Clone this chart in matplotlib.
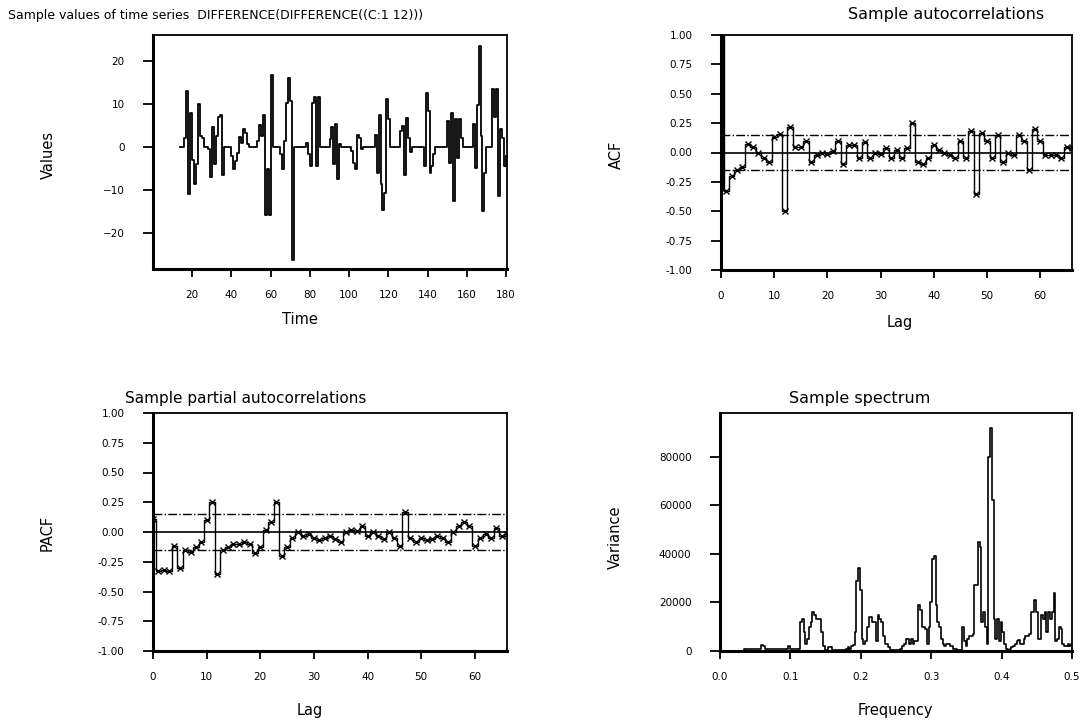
import numpy as np
import matplotlib
matplotlib.use("Agg")
import matplotlib.pyplot as plt
from matplotlib.ticker import FormatStrFormatter

plt.rcParams['font.family'] = ['DejaVu Sans']

# --- data ------------------------------------------------------------------
t_start, t_end = 14, 180
series_vals = [
    0, 0, 2, 13, -11, 8, -3, -8.5, -4, 10,
    2.5, 2, 0, 0, -0.5, -7, 4.7, -4, 2.5, 7,
    7.4, -6.6, 0, 0, 0, 0, -2, -5.2, -3.3, -1.3,
    2.3, 1, 4.1, 3.2, 0.6, 0, 0, 0, 0, 1.4,
    5.1, 2.5, 7.4, -15.7, -5, -15.7, 16.7, 0, 0, 0,
    0, -1.7, -5.2, 1.4, 10.2, 16.1, 10.7, -26.1, 0, 0,
    0, 0, 0, 0, 1, -1.5, -4.4, 10.2, 11.5, -4.4,
    11.5, 0, 0, 0, 0, 0, 1.8, 4.7, -4, 5.3,
    -7.3, 0.6, 0, 0, 0, 0, 0, -1, -3.6, -5.2,
    2.7, 2.2, -0.5, 0, 0, 0, 0, 0, 0, 2.7,
    -6, 7.4, -8.5, -14.5, -10.6, 11.1, 6.4, 0, 0, 0,
    0, 0, 3.7, 4.9, -6.4, 6.8, 2.2, -1.2, 0, 0,
    0, 0, 0, 0, -4.4, 12.6, 8.4, -6, -4.4, -1.5,
    0, 0, 0, 0, 0, 0, 6, -3.6, 8, -12.6,
    6.4, -2.5, 6.4, 2.2, 0, 0, 0, 0, 0, 5.3,
    -4.8, 9.7, 23.5, 2.6, -14.9, -6, 0, 0, 0, 13.4,
    7, 13.4, -11.4, 4.1, 2, -4.4, -2,
]

acf_vals = [
    1.0, -0.33, -0.2, -0.15, -0.12, 0.07, 0.05, 0.0, -0.05, -0.08,
    0.13, 0.16, -0.5, 0.22, 0.05, 0.05, 0.1, -0.08, -0.02, 0.0,
    -0.01, 0.01, 0.1, -0.1, 0.06, 0.06, -0.05, 0.09, -0.05, 0.0,
    -0.01, 0.04, -0.05, 0.02, -0.05, 0.04, 0.25, -0.08, -0.1, -0.05,
    0.06, 0.02, 0.0, -0.02, -0.05, 0.1, -0.05, 0.18, -0.35, 0.17,
    0.1, -0.05, 0.15, -0.08, 0.0, -0.02, 0.15, 0.1, -0.15, 0.2,
    0.1, -0.02, -0.02, -0.02, -0.05, 0.05, 0.04,
]

pacf_vals = [
    0.11, -0.33, -0.32, -0.33, -0.12, -0.3, -0.15, -0.17, -0.13, -0.08,
    0.1, 0.25, -0.35, -0.15, -0.13, -0.1, -0.1, -0.08, -0.1, -0.18,
    -0.13, 0.02, 0.08, 0.25, -0.2, -0.13, -0.05, 0.0, -0.03, -0.02,
    -0.05, -0.07, -0.05, -0.03, -0.06, -0.08, 0.0, 0.02, 0.01, 0.05,
    -0.03, 0.0, -0.03, -0.06, 0.0, -0.05, -0.12, 0.17, -0.05, -0.08,
    -0.05, -0.07, -0.06, -0.03, -0.05, -0.08, 0.0, 0.05, 0.08, 0.05,
    -0.12, -0.05, -0.02, -0.05, 0.03, -0.03, -0.02,
]
conf_band = 0.15

freq_step = 0.0025
spec_k = [  # variance in thousands
    0, 0, 0, 0, 0, 0, 0, 0, 0, 0,
    0, 0, 0, 0, 1, 1, 1, 1, 1, 1,
    1, 1, 1, 1, 2.5, 2, 1, 1, 1, 1,
    1, 1, 1, 1, 1, 1, 1, 1, 1, 2,
    1, 1, 1, 1, 1, 1, 12, 13, 8, 3,
    5, 10, 12, 16, 15, 13, 13, 13, 8, 2,
    0.5, 0.5, 1.5, 1.5, 0.3, 0.5, 0.5, 0.5, 0.5, 0.5,
    0.5, 0.5, 1, 1.5, 1, 2, 2.5, 8, 29, 34,
    25, 5, 3, 4, 10, 14, 14, 12, 12, 4,
    15, 13, 12, 6, 3, 3, 1.5, 0.5, 0.5, 0.5,
    0.5, 0.5, 0.5, 1, 2, 3, 5, 5, 3, 5,
    3, 4, 4, 19, 17, 10, 10, 9, 3, 10,
    20, 38, 39, 19, 12, 10, 5, 3, 2, 3,
    3, 2, 2, 1, 1, 0.5, 0.5, 0.5, 10, 4,
    2, 5, 6, 6, 7, 27, 27, 45, 43, 12,
    16, 10, 3, 80, 92, 62, 13, 5, 13, 4,
    12, 8, 3, 1, 0.5, 1, 1.5, 2, 3, 4,
    4.5, 3, 3, 5, 6, 6, 7, 16, 16, 21,
    16, 5, 5, 15, 13, 16, 8, 16, 13, 16,
    24, 4, 5, 10, 9, 3, 2, 2, 3, 2,
    3,
]

titles = ["Sample values of time series  DIFFERENCE(DIFFERENCE((C:1 12)))",
          "Sample autocorrelations",
          "Sample partial autocorrelations",
          "Sample spectrum"]

# --- figure ----------------------------------------------------------------
W, H = 1086, 723
fig = plt.figure(figsize=(W / 100, H / 100), dpi=100)


def px_axes(left, top, right, bottom):
    return fig.add_axes([left / W, 1 - bottom / H, (right - left) / W, (bottom - top) / H])


def style(ax):
    for side in ['left', 'bottom']:
        ax.spines[side].set_linewidth(2.2)
    for side in ['top', 'right']:
        ax.spines[side].set_linewidth(1.3)
    ax.tick_params(axis='y', direction='out', length=7.5, width=1.3,
                   labelsize=7.5, pad=13)
    ax.tick_params(axis='x', direction='out', length=6, width=1.3,
                   labelsize=7.5, pad=9)


def ftext(x, y, s, **kw):
    kw.setdefault('fontsize', 10.5)
    fig.text(x / W, 1 - y / H, s, **kw)


# top-left: series
ax1 = px_axes(153, 35, 507, 269)
t = np.arange(t_start, t_end + 1)
ax1.step(t, series_vals, where='post', color='k', lw=1.3)
ax1.set_xlim(0, 180.5)
ax1.set_ylim(-28.3, 26)
ax1.set_xticks(range(20, 181, 20))
ax1.set_yticks([-20, -10, 0, 10, 20])
style(ax1)

# top-right: ACF
ax2 = px_axes(721, 35, 1072, 270)
lags = np.arange(len(acf_vals))
ax2.plot(lags, acf_vals, drawstyle='steps-mid', color='k', lw=1.0)
ax2.plot(lags, acf_vals, 'x', color='k', ms=5, mew=1.0)
ax2.vlines(lags[0], acf_vals[1], acf_vals[0], color='k', lw=5)
ax2.axhline(0, color='k', lw=1.2)
ax2.axhline(conf_band, color='k', lw=1.0, ls='-.')
ax2.axhline(-conf_band, color='k', lw=1.0, ls='-.')
ax2.set_xlim(0, 66)
ax2.set_ylim(-1, 1)
ax2.set_xticks(range(0, 61, 10))
ax2.set_yticks(np.arange(-1, 1.01, 0.25))
ax2.yaxis.set_major_formatter(FormatStrFormatter('%.2f'))
style(ax2)

# bottom-left: PACF
ax3 = px_axes(153, 413, 507, 651)
lags_p = np.arange(len(pacf_vals))
ax3.plot(lags_p, pacf_vals, drawstyle='steps-mid', color='k', lw=1.0)
ax3.plot(lags_p, pacf_vals, 'x', color='k', ms=5, mew=1.0)
ax3.axhline(0, color='k', lw=1.2)
ax3.axhline(conf_band, color='k', lw=1.0, ls='-.')
ax3.axhline(-conf_band, color='k', lw=1.0, ls='-.')
ax3.set_xlim(0, 66)
ax3.set_ylim(-1, 1)
ax3.set_xticks(range(0, 61, 10))
ax3.set_yticks(np.arange(-1, 1.01, 0.25))
ax3.yaxis.set_major_formatter(FormatStrFormatter('%.2f'))
style(ax3)

# bottom-right: spectrum
ax4 = px_axes(720, 413, 1072, 651)
freq = np.arange(len(spec_k)) * freq_step
ax4.plot(freq, np.array(spec_k) * 1000, drawstyle='steps-mid', color='k', lw=1.2)
ax4.set_xlim(0, 0.5)
ax4.set_ylim(0, 98000)
ax4.set_xticks(np.arange(0, 0.51, 0.1))
ax4.xaxis.set_major_formatter(FormatStrFormatter('%.1f'))
ax4.set_yticks(range(0, 80001, 20000))
style(ax4)

# titles and axis labels
ftext(8, 15, titles[0], ha='left', va='center', fontsize=9)
ftext(848, 15, titles[1], ha='left', va='center', fontsize=11.5)
ftext(125, 399, titles[2], ha='left', va='center', fontsize=11)
ftext(860, 399, titles[3], ha='center', va='center', fontsize=11.5)

ftext(48, 155, 'Values', rotation=90, ha='center', va='center')
ftext(300, 320, 'Time', ha='center', va='center')
ftext(616, 155, 'ACF', rotation=90, ha='center', va='center')
ftext(900, 322, 'Lag', ha='center', va='center')
ftext(47, 533, 'PACF', rotation=90, ha='center', va='center')
ftext(310, 710, 'Lag', ha='center', va='center')
ftext(615, 537, 'Variance', rotation=90, ha='center', va='center')
ftext(895, 710, 'Frequency', ha='center', va='center')

fig.savefig('out.png', dpi=100)
